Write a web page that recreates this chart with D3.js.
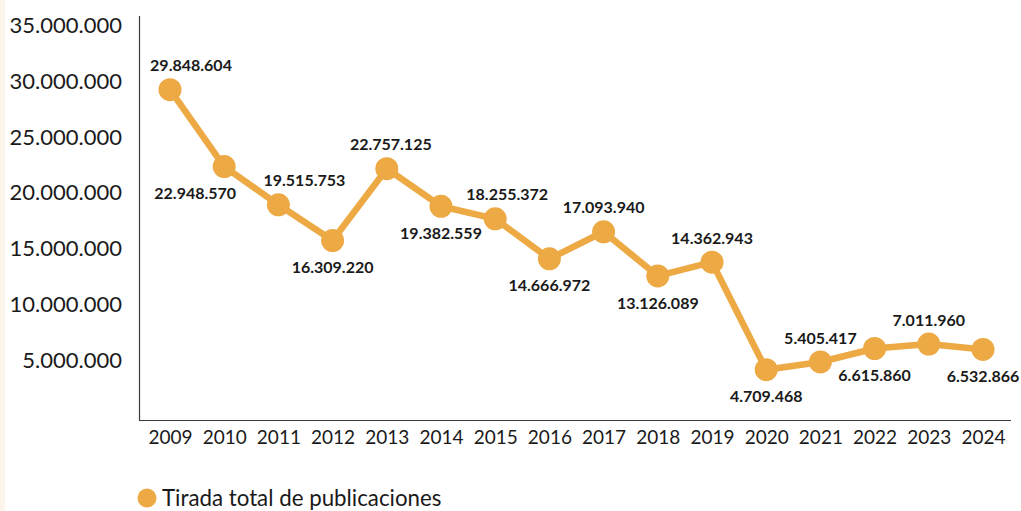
<!DOCTYPE html>
<html><head><meta charset="utf-8">
<script src="https://cdn.jsdelivr.net/npm/d3@7"></script>
<style>
html,body{margin:0;padding:0;background:#fff;}
svg{display:block;font-family:Lato,"Open Sans",sans-serif;}
</style></head>
<body>
<svg id="chart" width="1021" height="511"></svg>
<script>
// ---- data ----
const years = ["2009","2010","2011","2012","2013","2014","2015","2016","2017","2018","2019","2020","2021","2022","2023","2024"];
const tirada = [29848604,22948570,19515753,16309220,22757125,19382559,18255372,14666972,17093940,13126089,14362943,4709468,5405417,6615860,7011960,6532866];
const yTicks = [5000000,10000000,15000000,20000000,25000000,30000000,35000000];
const seriesName = "Tirada total de publicaciones";

// ---- layout (not data) ----
const labelDx = [21,-29,26,0,4,0,12,0,0,0,0,0,0,0,0,0];
const color = "#EDA944";

const svg = d3.select("#chart");
svg.append("rect").attr("x",0).attr("y",0).attr("width",5).attr("height",511).attr("fill","#FDF5EC");

const loc = d3.formatLocale({decimal:",",thousands:".",grouping:[3],currency:["","€"]});
const fmt = loc.format(",d");

const x = d3.scalePoint().domain(years).range([170,983]);
const y = d3.scaleLinear().domain([0,35000000]).range([422.2,32.3]);

// axes lines
svg.append("line").attr("x1",139.5).attr("x2",139.5).attr("y1",16).attr("y2",420.5).attr("stroke","#3a3a3a").attr("stroke-width",1.2);
svg.append("line").attr("x1",139).attr("x2",1011).attr("y1",420.5).attr("y2",420.5).attr("stroke","#3a3a3a").attr("stroke-width",1.2);

// y axis labels
const yAxis = d3.axisLeft(y).tickValues(yTicks).tickSize(0).tickPadding(0).tickFormat(fmt);
const gy = svg.append("g").attr("transform","translate(122,-6.5)").call(yAxis);
gy.select(".domain").remove();
gy.selectAll("text").attr("font-size",22).attr("fill","#1a1a1a").attr("font-family","Lato,sans-serif");

// x axis labels
const xAxis = d3.axisBottom(x).tickSize(0).tickPadding(0);
const gx = svg.append("g").attr("transform","translate(0,430)").call(xAxis);
gx.select(".domain").remove();
gx.selectAll("text").attr("font-size",19).attr("fill","#1a1a1a").attr("font-family","Lato,sans-serif");

// line
const line = d3.line().x((d,i)=>x(years[i])).y(d=>y(d));
svg.append("path").datum(tirada).attr("d",line).attr("fill","none").attr("stroke",color).attr("stroke-width",6.5).attr("stroke-linejoin","round");

svg.selectAll("circle.pt").data(tirada).enter().append("circle").attr("class","pt")
  .attr("cx",(d,i)=>x(years[i])).attr("cy",d=>y(d)).attr("r",11.5).attr("fill",color);

// value labels
svg.selectAll("text.val").data(tirada).enter().append("text").attr("class","val")
  .attr("x",(d,i)=>x(years[i])+labelDx[i])
  .attr("y",(d,i)=>y(d)+(i%2===0?-24:27))
  .attr("dy","0.35em")
  .attr("text-anchor","middle")
  .attr("font-size",16).attr("font-weight",700).attr("fill","#1a1a1a")
  .text(d=>fmt(d));

// legend
svg.append("circle").attr("cx",147).attr("cy",498).attr("r",9.5).attr("fill",color);
svg.append("text").attr("x",162).attr("y",506).attr("font-size",22.3).attr("fill","#1a1a1a").text(seriesName);
</script>
</body></html>
